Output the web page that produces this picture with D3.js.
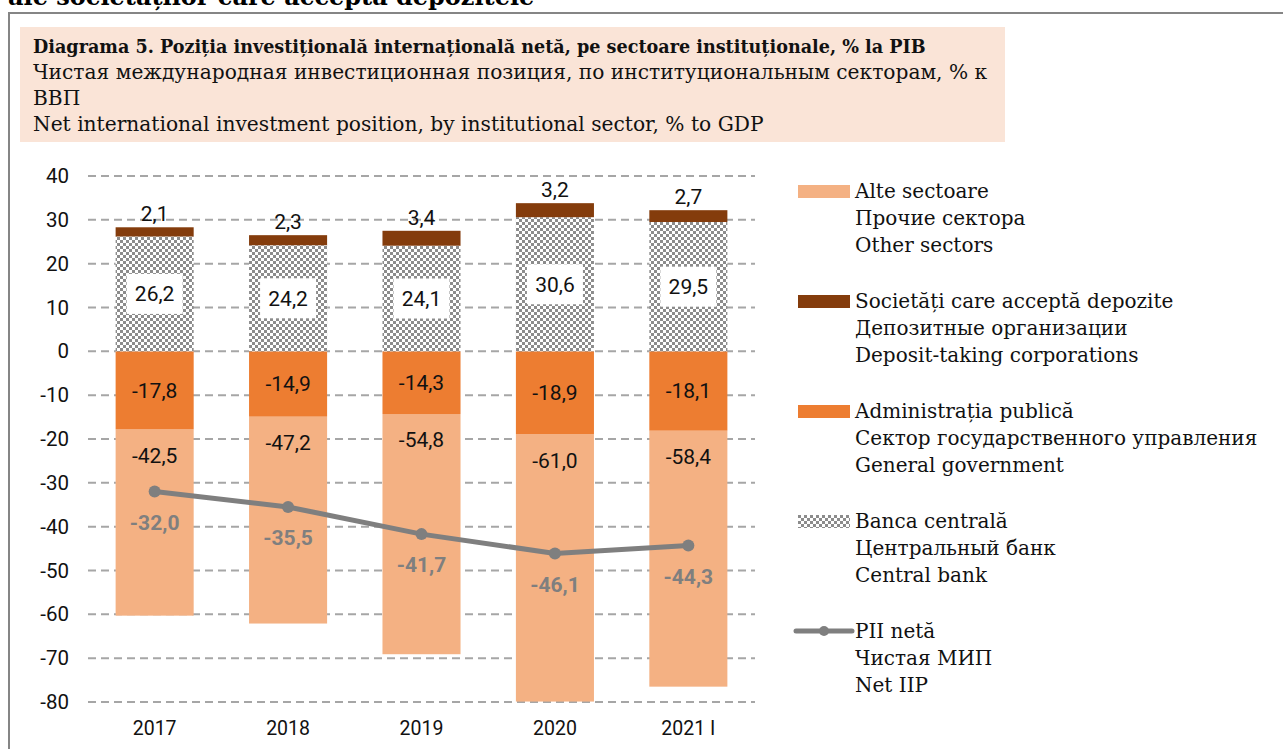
<!DOCTYPE html>
<html>
<head>
<meta charset="utf-8">
<script src="https://cdn.jsdelivr.net/npm/d3@7"></script>
<style>
  body { margin: 0; background: #fff; }
  svg { display: block; }
  .serif { font-family: "DejaVu Serif", "Liberation Serif", serif; }
  .num { font-family: "Liberation Sans Narrow", "Roboto", "Liberation Sans", sans-serif; }
</style>
</head>
<body>
<svg id="chart" width="1283" height="749"></svg>
<script>
(function () {
  // data
  const years = ['2017', '2018', '2019', '2020', '2021 I'];
  const centralBank = [26.2, 24.2, 24.1, 30.6, 29.5];
  const depositTaking = [2.1, 2.3, 3.4, 3.2, 2.7];
  const generalGov = [-17.8, -14.9, -14.3, -18.9, -18.1];
  const otherSectors = [-42.5, -47.2, -54.8, -61.0, -58.4];
  const netIIP = [-32.0, -35.5, -41.7, -46.1, -44.3];
  const yTicks = [40, 30, 20, 10, 0, -10, -20, -30, -40, -50, -60, -70, -80];

  const titleLines = [
    'Diagrama 5. Poziția investițională internațională netă, pe sectoare instituționale, % la PIB',
    'Чистая международная инвестиционная позиция, по институциональным секторам, % к',
    'ВВП',
    'Net international investment position, by institutional sector, % to GDP'
  ];
  const legendItems = [
    { key: 'other', lines: ['Alte sectoare', 'Прочие сектора', 'Other sectors'] },
    { key: 'deposit', lines: ['Societăți care acceptă depozite', 'Депозитные организации', 'Deposit-taking corporations'] },
    { key: 'gov', lines: ['Administrația publică', 'Сектор государственного управления', 'General government'] },
    { key: 'cb', lines: ['Banca centrală', 'Центральный банк', 'Central bank'] },
    { key: 'iip', lines: ['PII netă', 'Чистая МИП', 'Net IIP'] }
  ];

  const colors = {
    other: '#f4b183',
    deposit: '#843c0c',
    gov: '#ed7d31',
    iip: '#7f7f7f'
  };

  const fmt = v => d3.format('.1f')(v).replace('.', ',').replace('−', '-');

  const svg = d3.select('#chart');

  // checker pattern for central bank
  const defs = svg.append('defs');
  const pat = defs.append('pattern')
    .attr('id', 'checker')
    .attr('width', 6).attr('height', 6)
    .attr('patternUnits', 'userSpaceOnUse');
  pat.append('rect').attr('width', 6).attr('height', 6).attr('fill', '#fff');
  pat.append('rect').attr('width', 3).attr('height', 3).attr('fill', '#8c8c8c');
  pat.append('rect').attr('x', 3).attr('y', 3).attr('width', 3).attr('height', 3).attr('fill', '#8c8c8c');

  // heading of the page above, cut by the top edge as in the source
  svg.append('text')
    .attr('class', 'serif')
    .attr('x', 8).attr('y', 5)
    .style('font-size', '24px').style('font-weight', 'bold')
    .text('ale societăților care acceptă depozitele');

  // outer frame
  svg.append('path')
    .attr('d', 'M9,760 L9,13 L1290,13')
    .attr('fill', 'none')
    .attr('stroke', '#858585')
    .attr('stroke-width', 2);

  // title box
  svg.append('rect')
    .attr('x', 20).attr('y', 27)
    .attr('width', 985).attr('height', 115)
    .attr('fill', '#fae4d7');

  svg.append('g').selectAll('text')
    .data(titleLines)
    .enter().append('text')
    .attr('class', 'serif')
    .attr('x', 33)
    .attr('y', (d, i) => 53 + i * 26)
    .style('font-size', (d, i) => i === 0 ? '17.6px' : '20.2px')
    .style('font-weight', (d, i) => i === 0 ? 'bold' : 'normal')
    .attr('fill', '#111')
    .text(d => d);

  // scales
  const x = d3.scaleBand().domain(years).range([88, 755]).paddingInner(0.415).paddingOuter(0.207);
  const y = d3.scaleLinear().domain([-80, 40]).range([702, 176]);

  // gridlines
  svg.append('g').selectAll('line')
    .data(yTicks)
    .enter().append('line')
    .attr('x1', 88).attr('x2', 755)
    .attr('y1', d => y(d)).attr('y2', d => y(d))
    .attr('stroke', '#a6a6a6')
    .attr('stroke-width', 2)
    .attr('stroke-dasharray', '8,5');

  // y axis labels
  const yAxis = svg.append('g')
    .attr('transform', 'translate(69,0)')
    .call(d3.axisLeft(y).tickValues(yTicks).tickSize(0).tickPadding(0).tickFormat(d => String(d)));
  yAxis.select('.domain').remove();
  yAxis.selectAll('text')
    .attr('class', 'num')
    .style('font-size', '20.5px')
    .attr('fill', '#111');

  // x axis labels
  const xAxis = svg.append('g')
    .attr('transform', 'translate(0,717)')
    .call(d3.axisBottom(x).tickSize(0).tickPadding(0));
  xAxis.select('.domain').remove();
  xAxis.selectAll('text')
    .attr('class', 'num')
    .attr('dy', '0.9em')
    .style('font-size', '19.5px')
    .attr('fill', '#111');

  const rows = years.map((yr, i) => ({
    year: yr,
    cb: centralBank[i],
    dep: depositTaking[i],
    gov: generalGov[i],
    oth: otherSectors[i],
    iip: netIIP[i]
  }));

  const bars = svg.append('g');
  // other sectors (below government)
  bars.selectAll('.oth').data(rows).enter().append('rect')
    .attr('x', d => x(d.year)).attr('width', x.bandwidth())
    .attr('y', d => y(d.gov)).attr('height', d => y(d.gov + d.oth) - y(d.gov))
    .attr('fill', colors.other);
  // general government
  bars.selectAll('.gov').data(rows).enter().append('rect')
    .attr('x', d => x(d.year)).attr('width', x.bandwidth())
    .attr('y', y(0)).attr('height', d => y(d.gov) - y(0))
    .attr('fill', colors.gov);
  // central bank
  bars.selectAll('.cb').data(rows).enter().append('rect')
    .attr('x', d => x(d.year)).attr('width', x.bandwidth())
    .attr('y', d => y(d.cb)).attr('height', d => y(0) - y(d.cb))
    .attr('fill', 'url(#checker)');
  // deposit-taking
  bars.selectAll('.dep').data(rows).enter().append('rect')
    .attr('x', d => x(d.year)).attr('width', x.bandwidth())
    .attr('y', d => y(d.cb + d.dep)).attr('height', d => y(d.cb) - y(d.cb + d.dep))
    .attr('fill', colors.deposit);

  const labels = svg.append('g').attr('class', 'num').style('font-size', '21px').attr('text-anchor', 'middle');
  const cx = d => x(d.year) + x.bandwidth() / 2;

  // central bank labels in white boxes
  labels.selectAll('.cbbox').data(rows).enter().append('rect')
    .attr('x', d => cx(d) - 28).attr('width', 56)
    .attr('y', d => y(d.cb / 2) - 20).attr('height', 40)
    .attr('fill', '#fff');
  labels.selectAll('.cbl').data(rows).enter().append('text')
    .attr('x', cx).attr('y', d => y(d.cb / 2)).attr('dy', '0.35em')
    .attr('fill', '#111').text(d => fmt(d.cb));

  labels.selectAll('.depl').data(rows).enter().append('text')
    .attr('x', cx).attr('y', d => y(d.cb + d.dep) - 6)
    .attr('fill', '#111').text(d => fmt(d.dep));

  labels.selectAll('.govl').data(rows).enter().append('text')
    .attr('x', cx).attr('y', d => y(d.gov / 2)).attr('dy', '0.35em')
    .attr('fill', '#111').text(d => fmt(d.gov));

  labels.selectAll('.othl').data(rows).enter().append('text')
    .attr('x', cx).attr('y', d => y(d.gov) + 26).attr('dy', '0.35em')
    .attr('fill', '#111').text(d => fmt(d.oth));

  // net IIP line
  const line = d3.line().x(cx).y(d => y(d.iip));
  svg.append('path')
    .datum(rows)
    .attr('d', line)
    .attr('fill', 'none')
    .attr('stroke', colors.iip)
    .attr('stroke-width', 5);
  svg.append('g').selectAll('circle')
    .data(rows).enter().append('circle')
    .attr('cx', cx).attr('cy', d => y(d.iip)).attr('r', 6)
    .attr('fill', colors.iip);
  svg.append('g').attr('class', 'num').style('font-size', '21px').style('font-weight', 'bold')
    .attr('text-anchor', 'middle')
    .selectAll('text').data(rows).enter().append('text')
    .attr('x', cx).attr('y', d => y(d.iip) + 31).attr('dy', '0.35em')
    .attr('fill', colors.iip)
    .text(d => fmt(d.iip));

  // legend
  const legend = svg.append('g').selectAll('g')
    .data(legendItems)
    .enter().append('g')
    .attr('transform', (d, i) => 'translate(798,' + (191 + i * 110) + ')');

  legend.each(function (d) {
    const g = d3.select(this);
    if (d.key === 'iip') {
      g.append('line').attr('x1', -2).attr('x2', 54).attr('y1', 0).attr('y2', 0)
        .attr('stroke', colors.iip).attr('stroke-width', 5).attr('stroke-linecap', 'round');
      g.append('circle').attr('cx', 26).attr('cy', 0).attr('r', 5).attr('fill', colors.iip);
    } else {
      g.append('rect').attr('x', 0).attr('y', -6).attr('width', 52).attr('height', 13)
        .attr('fill', d.key === 'cb' ? 'url(#checker)' : colors[d.key]);
    }
    g.selectAll('text').data(d.lines).enter().append('text')
      .attr('class', 'serif')
      .attr('x', 57).attr('y', (t, j) => j * 27).attr('dy', '0.35em')
      .style('font-size', '20px')
      .attr('fill', '#111')
      .text(t => t);
  });
})();
</script>
</body>
</html>
